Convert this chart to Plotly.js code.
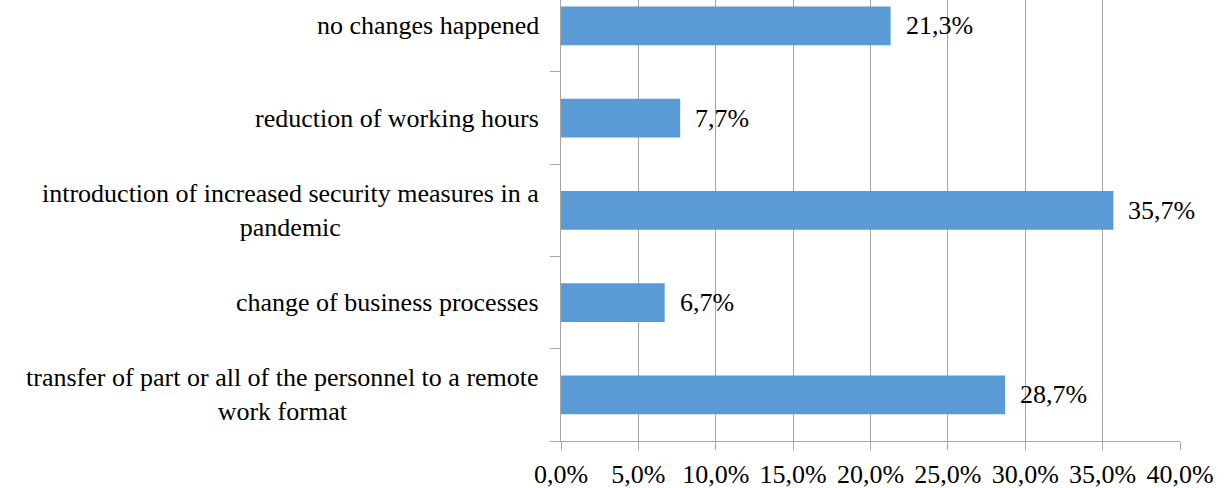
<!DOCTYPE html>
<html><head><meta charset="utf-8">
<script src="https://cdn.plot.ly/plotly-3.0.1.min.js"></script>
<style>html,body{margin:0;padding:0;background:#fff}</style>
</head><body><div id="chart" style="width:1227px;height:488px"></div>
<script>
const categories = [
  "transfer of part or all of the personnel to a remote<br>work format",
  "change of business processes",
  "introduction of increased security measures in a<br>pandemic",
  "reduction of working hours",
  "no changes happened"
];
const values = [28.7, 6.7, 35.7, 7.7, 21.3];
const tickValues = [0, 5, 10, 15, 20, 25, 30, 35, 40];
const tickLabels = ["0,0%", "5,0%", "10,0%", "15,0%", "20,0%", "25,0%", "30,0%", "35,0%", "40,0%"];

const font = "'Liberation Serif', 'Times New Roman', serif";
const fmt = v => v.toFixed(1).replace('.', ',') + '%';

const annotations = [];
values.forEach((v, i) => {
  annotations.push({x: v, y: categories[i], xref: 'x', yref: 'y', text: fmt(v),
    showarrow: false, xanchor: 'left', xshift: 13, font: {family: font, size: 26, color: '#000'}});
  annotations.push({x: 0, y: categories[i], xref: 'paper', yref: 'y', text: categories[i],
    showarrow: false, xanchor: 'right', xshift: -20, align: 'center',
    font: {family: font, size: 26, color: '#000'}});
});

const trace = {
  type: 'bar', orientation: 'h', x: values, y: categories,
  marker: {color: '#5B9BD5'}, width: 0.42, hoverinfo: 'none'
};
const layout = {
  width: 1227, height: 488,
  margin: {l: 561, r: 47, t: 0, b: 47, pad: 0},
  paper_bgcolor: '#fff', plot_bgcolor: '#fff',
  showlegend: false,
  font: {family: font, size: 24, color: '#000'},
  xaxis: {range: [0, 40], tickvals: tickValues, ticktext: tickLabels,
    showgrid: true, gridcolor: '#a6a6a6', gridwidth: 1,
    showline: true, linecolor: '#a6a6a6', linewidth: 1,
    ticks: 'outside', ticklen: 8, tickcolor: '#a6a6a6', ticklabelstandoff: 2,
    tickfont: {family: font, size: 26, color: '#000'}, zeroline: false, fixedrange: true},
  yaxis: {type: 'category', range: [-0.5, 4.28], showticklabels: false,
    showline: true, linecolor: '#a6a6a6', linewidth: 1,
    ticks: 'outside', ticklen: 10, tickcolor: '#a6a6a6', tickson: 'boundaries',
    showgrid: false, zeroline: false, fixedrange: true},
  annotations: annotations
};
Plotly.newPlot('chart', [trace], layout, {displayModeBar: false, staticPlot: true});
</script></body></html>
